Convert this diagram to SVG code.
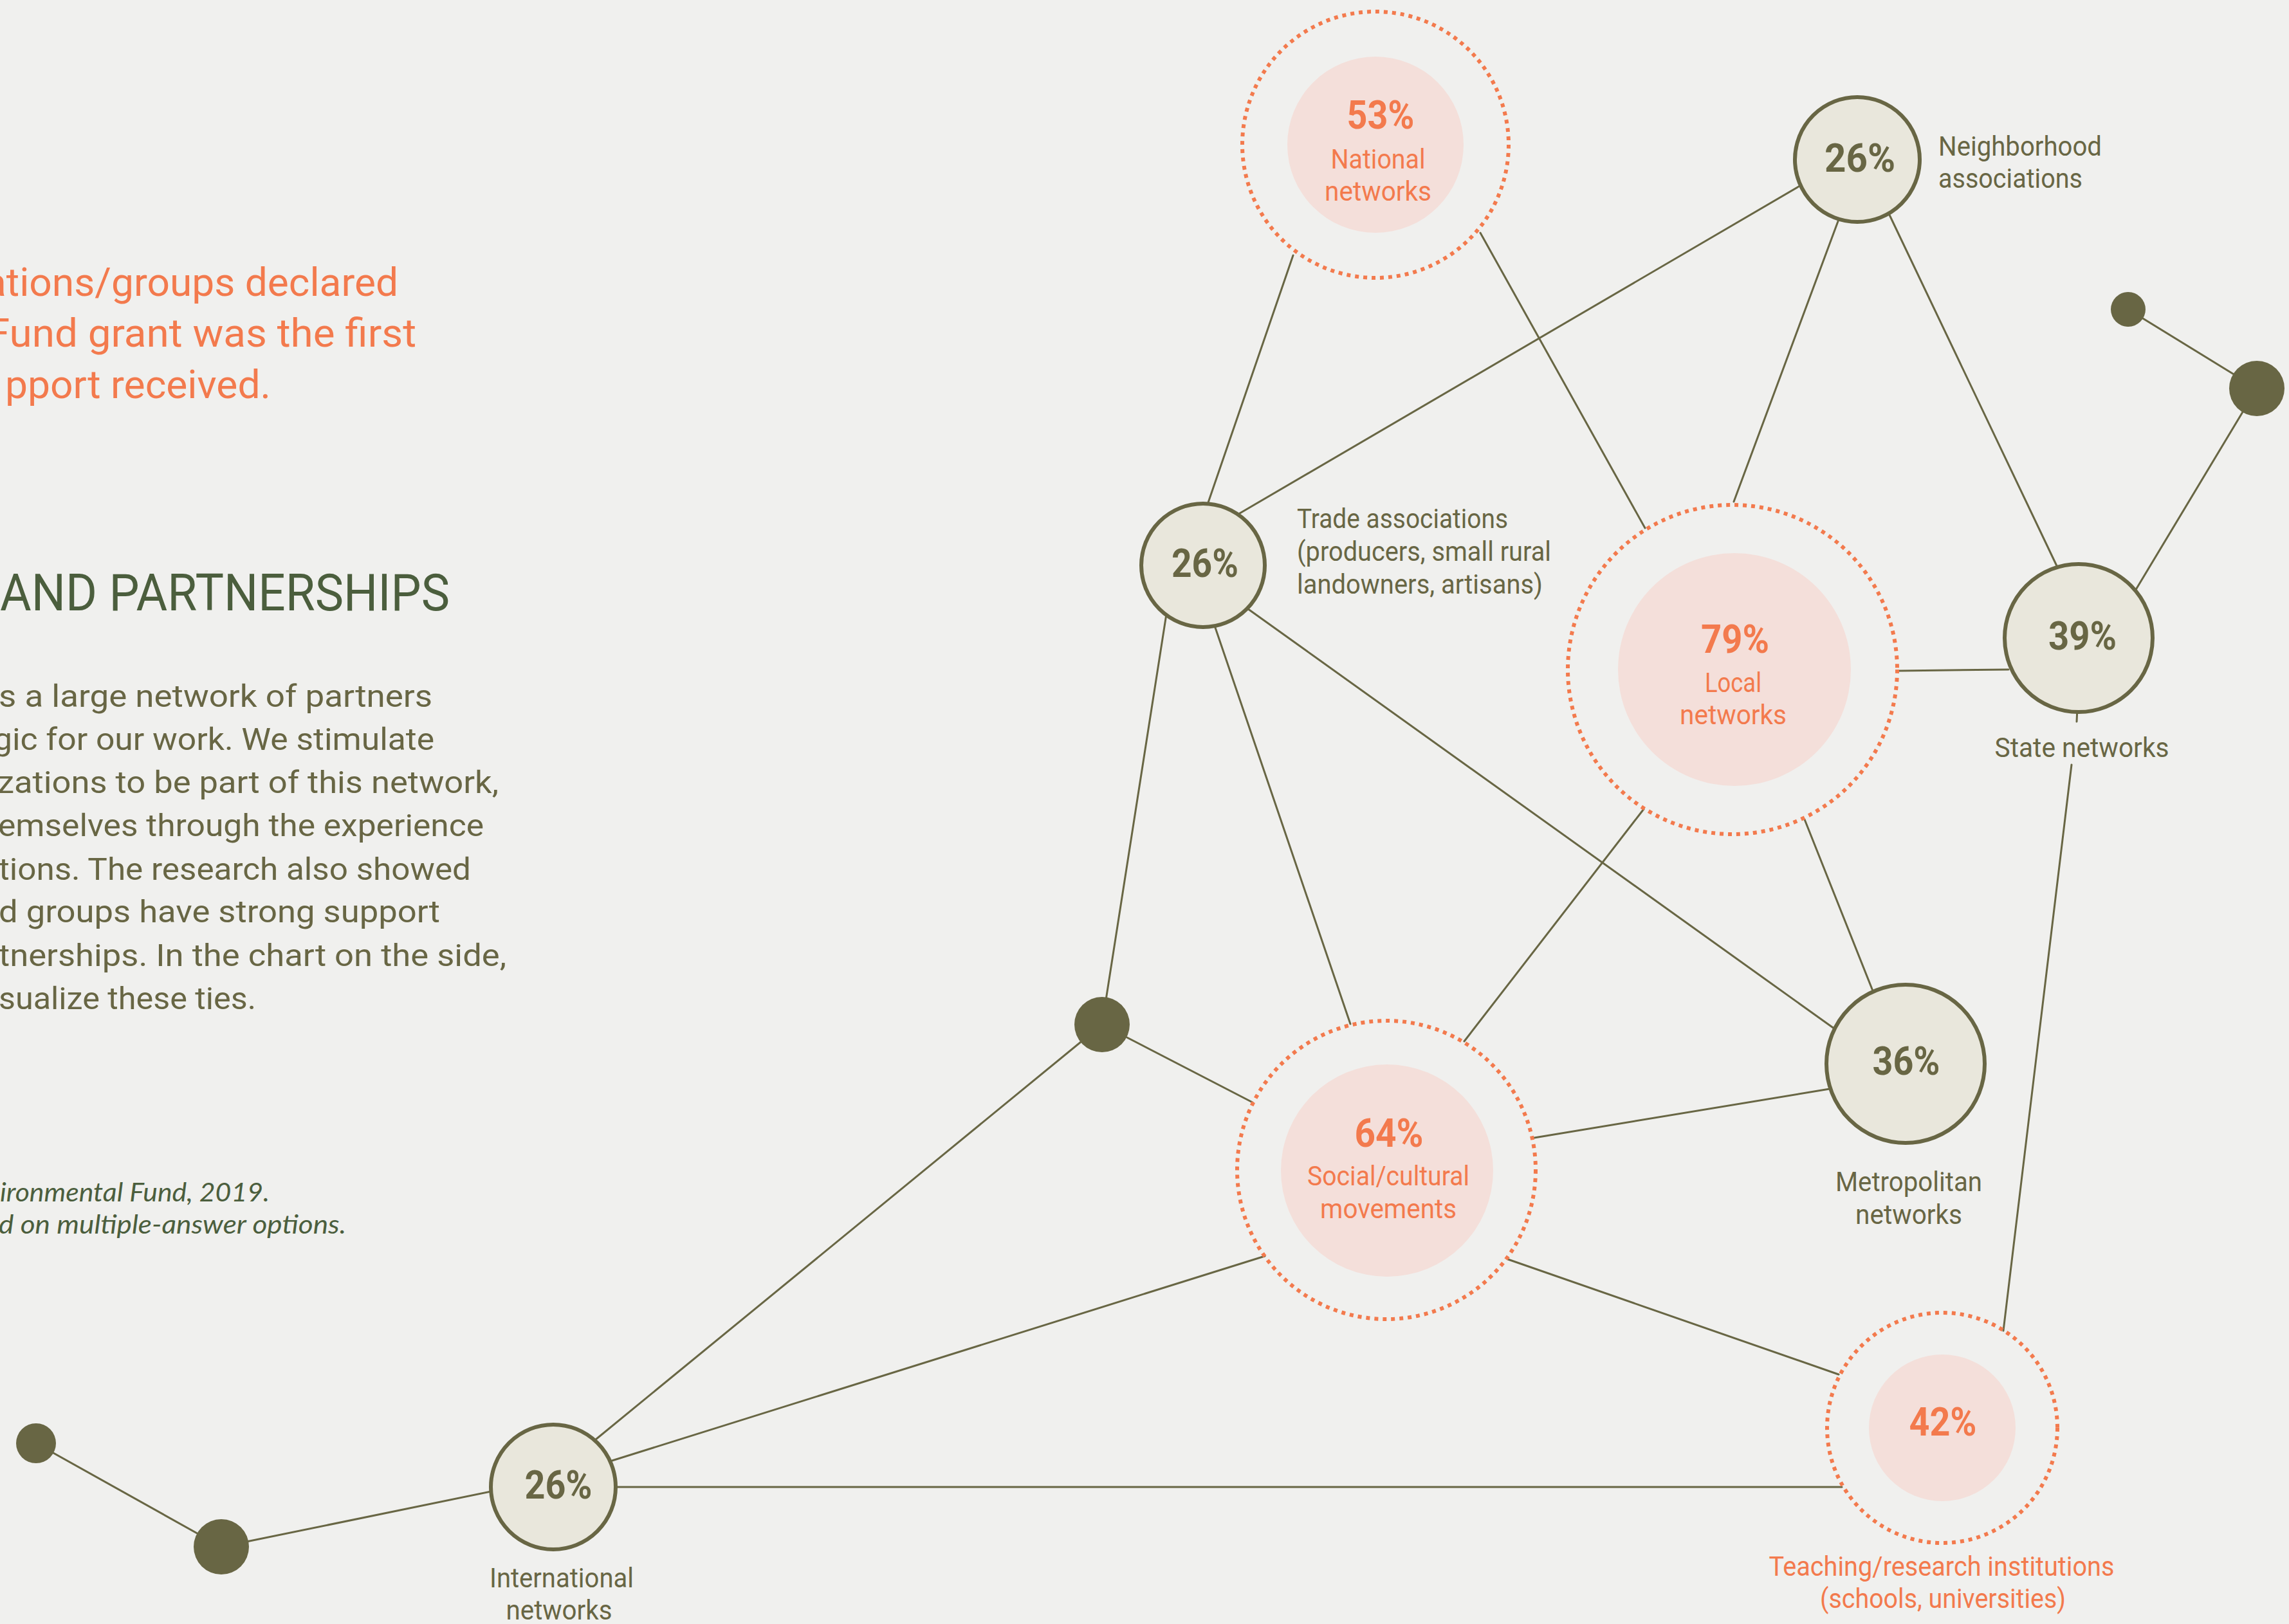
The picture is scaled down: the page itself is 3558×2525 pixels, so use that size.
<svg xmlns="http://www.w3.org/2000/svg" width="3558" height="2525" viewBox="0 0 3558 2525">
<style>
.bg{fill:#f0f0ee}
.ln{stroke:#686644;stroke-width:3;fill:none;stroke-linecap:round}
.node{fill:#e9e7dc;stroke:#686644;stroke-width:6}
.dot{fill:#686644}
.ring{fill:none;stroke:#f37a4d;stroke-width:6;stroke-dasharray:6 7}
.pink{fill:#f4dfda}
.pct{font-family:Roboto,"Liberation Sans",sans-serif;font-weight:700;font-size:62px;text-anchor:middle}
.po{fill:#f37a4d}
.pg{fill:#686644}
.lab{font-family:Roboto,"Liberation Sans",sans-serif;font-size:42px}
.lo{fill:#f37a4d}
.lg{fill:#686644}
.mid{text-anchor:middle}
.title{font-family:Roboto,"Liberation Sans",sans-serif;font-size:62px;fill:#f37a4d}
.head{font-family:Roboto,"Liberation Sans",sans-serif;font-size:80px;fill:#4b5e3d}
.para{font-family:Roboto,"Liberation Sans",sans-serif;font-size:48px;fill:#686644}
.note{font-family:Lato,"Open Sans",sans-serif;font-style:italic;font-size:40px;fill:#4b5e3d}
</style>
<rect class="bg" x="0" y="0" width="3558" height="2525"/>

<g id="intro-text">
<text class="title" x="-24" y="460" textLength="643" lengthAdjust="spacingAndGlyphs">ations/groups declared</text>
<text class="title" x="-20" y="539" textLength="667" lengthAdjust="spacingAndGlyphs">Fund grant was the first</text>
<text class="title" x="8" y="619" textLength="413" lengthAdjust="spacingAndGlyphs">pport received.</text>
<text class="head" x="0" y="949" textLength="699" lengthAdjust="spacingAndGlyphs">AND PARTNERSHIPS</text>
<text class="para" x="-2" y="1099" textLength="674" lengthAdjust="spacingAndGlyphs">s a large network of partners</text>
<text class="para" x="-10" y="1166" textLength="685" lengthAdjust="spacingAndGlyphs">gic for our work. We stimulate</text>
<text class="para" x="-4" y="1233" textLength="779" lengthAdjust="spacingAndGlyphs">zations to be part of this network,</text>
<text class="para" x="-3" y="1300" textLength="755" lengthAdjust="spacingAndGlyphs">emselves through the experience</text>
<text class="para" x="-2" y="1368" textLength="734" lengthAdjust="spacingAndGlyphs">tions. The research also showed</text>
<text class="para" x="-2" y="1434" textLength="686" lengthAdjust="spacingAndGlyphs">d groups have strong support</text>
<text class="para" x="-2" y="1502" textLength="789" lengthAdjust="spacingAndGlyphs">tnerships. In the chart on the side,</text>
<text class="para" x="-2" y="1569" textLength="400" lengthAdjust="spacingAndGlyphs">sualize these ties.</text>
<text class="note" x="0" y="1868" textLength="419" lengthAdjust="spacingAndGlyphs">ironmental Fund, 2019.</text>
<text class="note" x="-2" y="1918" textLength="540" lengthAdjust="spacingAndGlyphs">d on multiple-answer options.</text>
</g>

<g id="connectors">
<line class="ln" x1="2010" y1="397" x2="1875" y2="790"/>
<line class="ln" x1="2301" y1="362" x2="2557" y2="821"/>
<line class="ln" x1="2801" y1="287" x2="1922" y2="801"/>
<line class="ln" x1="2860" y1="336" x2="2695" y2="780"/>
<line class="ln" x1="2935" y1="330" x2="3199" y2="884"/>
<line class="ln" x1="2951" y1="1043" x2="3122" y2="1041"/>
<line class="ln" x1="3318" y1="920" x2="3508" y2="604"/>
<line class="ln" x1="3308" y1="481" x2="3508" y2="604"/>
<line class="ln" x1="1813" y1="955" x2="1713" y2="1593"/>
<line class="ln" x1="1887" y1="970" x2="2099" y2="1592"/>
<line class="ln" x1="1936" y1="944" x2="2855" y2="1602"/>
<line class="ln" x1="2555" y1="1258" x2="2276" y2="1619"/>
<line class="ln" x1="2805" y1="1274" x2="2914" y2="1548"/>
<line class="ln" x1="2385" y1="1769" x2="2850" y2="1692"/>
<line class="ln" x1="1713" y1="1593" x2="1947" y2="1714"/>
<line class="ln" x1="1713" y1="1593" x2="920" y2="2243"/>
<line class="ln" x1="1966" y1="1953" x2="945" y2="2273"/>
<line class="ln" x1="2344" y1="1958" x2="2858" y2="2137"/>
<line class="ln" x1="952" y1="2312" x2="2863" y2="2312"/>
<line class="ln" x1="3229" y1="1100" x2="3228" y2="1122"/>
<line class="ln" x1="3220" y1="1189" x2="3114" y2="2069"/>
<line class="ln" x1="344" y1="2405" x2="768" y2="2318"/>
<line class="ln" x1="56" y1="2244" x2="344" y2="2405"/>
</g>

<g id="node-national">
<circle class="pink" cx="2138" cy="225" r="137"/>
<circle class="ring" cx="2138" cy="225" r="207"/>
<text class="pct po" x="2146" y="200" textLength="105" lengthAdjust="spacingAndGlyphs">53%</text>
<text class="lab lo mid" x="2142" y="262" textLength="147" lengthAdjust="spacingAndGlyphs">National</text>
<text class="lab lo mid" x="2142" y="312" textLength="166" lengthAdjust="spacingAndGlyphs">networks</text>
</g>

<g id="node-neighborhood">
<circle class="node" cx="2887" cy="248" r="97"/>
<text class="pct pg" x="2891" y="267" textLength="110" lengthAdjust="spacingAndGlyphs">26%</text>
<text class="lab lg" x="3013" y="242" textLength="254" lengthAdjust="spacingAndGlyphs">Neighborhood</text>
<text class="lab lg" x="3013" y="292" textLength="224" lengthAdjust="spacingAndGlyphs">associations</text>
</g>

<g id="node-trade">
<circle class="node" cx="1870" cy="879" r="96"/>
<text class="pct pg" x="1873" y="897" textLength="104" lengthAdjust="spacingAndGlyphs">26%</text>
<text class="lab lg" x="2016" y="821" textLength="328" lengthAdjust="spacingAndGlyphs">Trade associations</text>
<text class="lab lg" x="2016" y="872" textLength="395" lengthAdjust="spacingAndGlyphs">(producers, small rural</text>
<text class="lab lg" x="2016" y="923" textLength="382" lengthAdjust="spacingAndGlyphs">landowners, artisans)</text>
</g>

<g id="node-local">
<circle class="pink" cx="2696" cy="1041" r="181"/>
<circle class="ring" cx="2693" cy="1041" r="256"/>
<text class="pct po" x="2697" y="1015" textLength="106" lengthAdjust="spacingAndGlyphs">79%</text>
<text class="lab lo mid" x="2694" y="1076" textLength="88" lengthAdjust="spacingAndGlyphs">Local</text>
<text class="lab lo mid" x="2694" y="1126" textLength="166" lengthAdjust="spacingAndGlyphs">networks</text>
</g>

<g id="node-state">
<circle class="node" cx="3231" cy="992" r="115"/>
<text class="pct pg" x="3237" y="1010" textLength="106" lengthAdjust="spacingAndGlyphs">39%</text>
<text class="lab lg mid" x="3236" y="1177" textLength="271" lengthAdjust="spacingAndGlyphs">State networks</text>
</g>

<g id="node-metropolitan">
<circle class="node" cx="2962" cy="1654" r="123"/>
<text class="pct pg" x="2963" y="1671" textLength="105" lengthAdjust="spacingAndGlyphs">36%</text>
<text class="lab lg mid" x="2967" y="1852" textLength="228" lengthAdjust="spacingAndGlyphs">Metropolitan</text>
<text class="lab lg mid" x="2967" y="1903" textLength="166" lengthAdjust="spacingAndGlyphs">networks</text>
</g>

<g id="node-social">
<circle class="pink" cx="2156" cy="1820" r="165"/>
<circle class="ring" cx="2155" cy="1819" r="232"/>
<text class="pct po" x="2159" y="1783" textLength="107" lengthAdjust="spacingAndGlyphs">64%</text>
<text class="lab lo mid" x="2158" y="1843" textLength="252" lengthAdjust="spacingAndGlyphs">Social/cultural</text>
<text class="lab lo mid" x="2158" y="1894" textLength="212" lengthAdjust="spacingAndGlyphs">movements</text>
</g>

<g id="node-teaching">
<circle class="pink" cx="3019" cy="2220" r="114"/>
<circle class="ring" cx="3019" cy="2220" r="179"/>
<text class="pct po" x="3020" y="2232" textLength="105" lengthAdjust="spacingAndGlyphs">42%</text>
<text class="lab lo mid" x="3018" y="2450" textLength="537" lengthAdjust="spacingAndGlyphs">Teaching/research institutions</text>
<text class="lab lo mid" x="3020" y="2500" textLength="382" lengthAdjust="spacingAndGlyphs">(schools, universities)</text>
</g>

<g id="node-international">
<circle class="node" cx="860" cy="2312" r="97"/>
<text class="pct pg" x="868" y="2330" textLength="105" lengthAdjust="spacingAndGlyphs">26%</text>
<text class="lab lg mid" x="873" y="2468" textLength="224" lengthAdjust="spacingAndGlyphs">International</text>
<text class="lab lg mid" x="869" y="2518" textLength="165" lengthAdjust="spacingAndGlyphs">networks</text>
</g>

<g id="dot-center"><circle class="dot" cx="1713" cy="1593" r="43"/></g>
<g id="dot-top-right-small"><circle class="dot" cx="3308" cy="481" r="27"/></g>
<g id="dot-top-right-large"><circle class="dot" cx="3508" cy="604" r="43"/></g>
<g id="dot-bottom-left-small"><circle class="dot" cx="56" cy="2244" r="31"/></g>
<g id="dot-bottom-left-large"><circle class="dot" cx="344" cy="2405" r="43"/></g>
</svg>
